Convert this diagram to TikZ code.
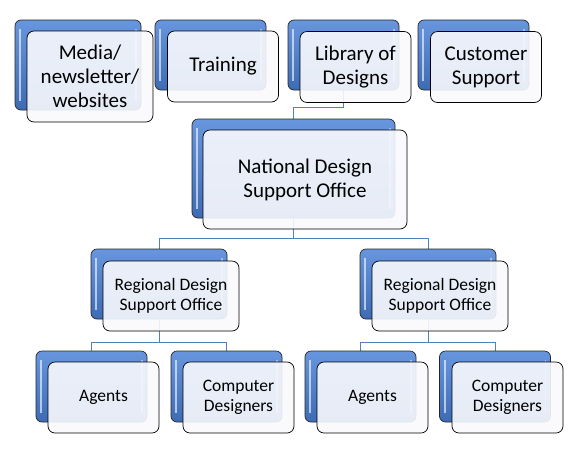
\documentclass[tikz,border=0pt]{standalone}
\usepackage{fontspec}
\setmainfont{Carlito}
\usetikzlibrary{positioning}
\usetikzlibrary{calc}
\usetikzlibrary{backgrounds}
\definecolor{accent}{RGB}{79,129,189}
\definecolor{accenttop}{RGB}{104,150,222}
\definecolor{accentlow}{RGB}{62,108,180}
\definecolor{paper}{RGB}{249,250,253}

\begin{document}
\begin{tikzpicture}
    [x=1pt, y=-1pt,
    back/.style={draw=black!85, line width=0.7pt, rounded corners=6pt, top color=accenttop, bottom color=accentlow,
        minimum width=111pt, minimum height=70pt, inner sep=0pt,
        path picture={\draw[white, opacity=0.6, line width=2pt] ([xshift=5pt,yshift=-9pt]path picture bounding box.north west) -- ([xshift=5pt,yshift=9pt]path picture bounding box.south west);
            \draw[white, opacity=0.4, line width=1.5pt] ([xshift=-5pt,yshift=-9pt]path picture bounding box.north east) -- ([xshift=-5pt,yshift=9pt]path picture bounding box.south east);}},
    front/.style={draw=black, line width=0.7pt, rounded corners=7pt, fill=paper, fill opacity=0.9, text opacity=1,
        minimum width=111pt, minimum height=71pt, inner sep=0pt, align=center, font=\fontsize{17.5}{19.5}\selectfont},
    big/.style={font=\fontsize{21}{24}\selectfont},
    link/.style={draw=accent, line width=1pt}]
    \useasboundingbox (0,0) rectangle (581,459);
    %\draw[step=50pt,gray,very thin] (0,0) grid (581,459);
    % top row
    \node[back, minimum width=126pt, minimum height=90pt] (media) at (78,65) {};
    \node[front, big, minimum width=126pt, minimum height=91pt] (media-t) at (90,76.5) {Media/\\newsletter/\\websites};
    \node[back] (train) at (210.5,55) {};
    \node[front, big] (train-t) at (223,66.5) {Training};
    \node[back] (lib) at (343.5,55) {};
    \node[front, big] (lib-t) at (355.5,67) {Library of\\Designs};
    \node[back] (cust) at (473.5,55) {};
    \node[front, big] (cust-t) at (486,67) {Customer\\Support};
    % national office
    \node[back, minimum width=203pt, minimum height=99pt] (nat) at (293.5,168.5) {};
    \node[front, big, minimum width=204pt, minimum height=99pt] (nat-t) at (305,179.5) {National Design\\Support Office};
    % regional offices
    \node[back, minimum width=136pt] (regL) at (159,284) {};
    \node[front, minimum width=136pt, minimum height=70pt] (regL-t) at (171,296) {Regional Design\\Support Office};
    \node[back, minimum width=136pt] (regR) at (428,284) {};
    \node[front, minimum width=136pt, minimum height=70pt] (regR-t) at (440,296) {Regional Design\\Support Office};
    % staff
    \node[back, minimum height=71pt] (agL) at (91.5,386.5) {};
    \node[front] (agL-t) at (103.5,397.5) {Agents};
    \node[back, minimum height=71pt] (compL) at (226.5,386.5) {};
    \node[front] (compL-t) at (238.5,397.5) {Computer\\Designers};
    \node[back, minimum height=71pt] (agR) at (360.5,386.5) {};
    \node[front] (agR-t) at (372.5,397.5) {Agents};
    \node[back, minimum height=71pt] (compR) at (495,386.5) {};
    \node[front] (compR-t) at (507.5,397.5) {Computer\\Designers};
    % connectors
    \begin{scope}[on background layer]
        \draw[link] (lib.south) -- ++(0,17.5) -| (nat.north);
        \draw[link] (nat.south) -- ++(0,20) -| (regL.north);
        \draw[link] (nat.south) -- ++(0,20) -| (regR.north);
        \draw[link] (regL.south) -- ++(0,23) -| (agL.north);
        \draw[link] (regL.south) -- ++(0,23) -| (compL.north);
        \draw[link] (regR.south) -- ++(0,23) -| (agR.north);
        \draw[link] (regR.south) -- ++(0,23) -| (compR.north);
    \end{scope}
\end{tikzpicture}
\end{document}
